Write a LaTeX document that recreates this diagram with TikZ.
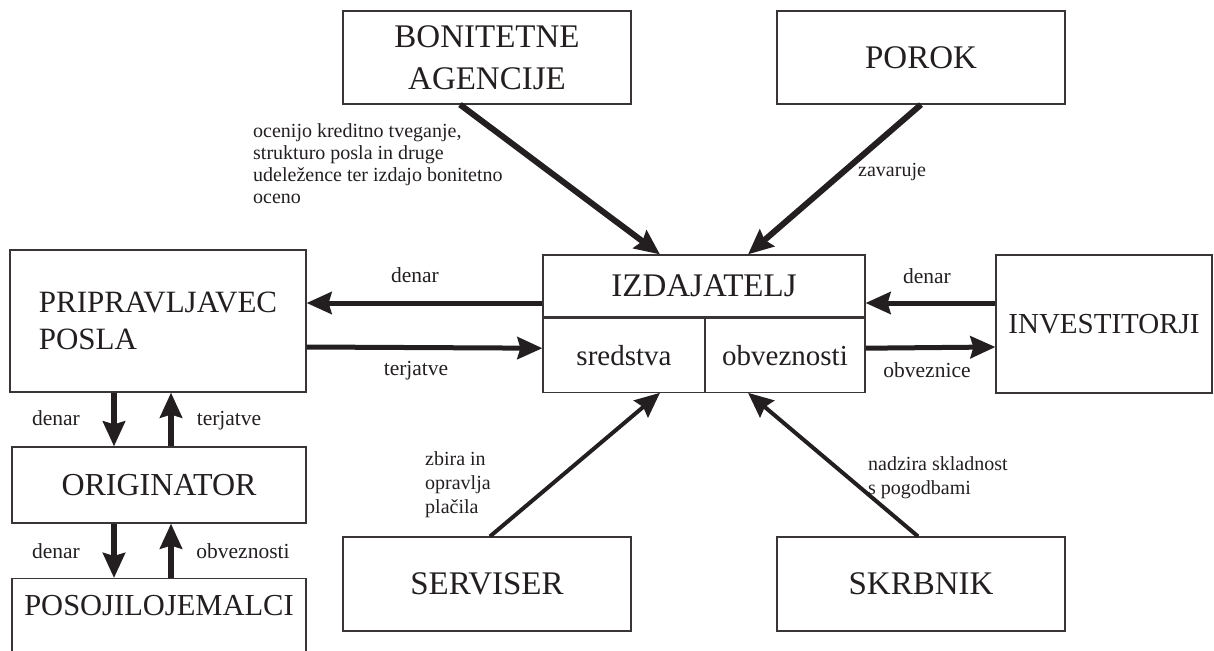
\documentclass[tikz,border=0pt]{standalone}
\usepackage{fontspec}
\setmainfont{Liberation Serif}
\usetikzlibrary{arrows.meta,positioning}
\definecolor{ink}{RGB}{35,31,32}
\tikzset{
  box/.style={draw=ink!90, line width=1.2pt, inner sep=0pt, text=ink,
    font=\fontsize{33}{42}\selectfont, align=center},
  lbl/.style={inner sep=0pt, text=ink, text height=15pt, text depth=4pt,
    font=\fontsize{21.5}{24}\selectfont},
  note/.style={inner sep=0pt, text=ink, align=left, font=\fontsize{20}{22}\selectfont},
  flow/.style={draw=ink, line width=5pt, -{Stealth[length=25pt,width=22pt,inset=3pt]}},
}
\begin{document}
\begin{tikzpicture}[x=1pt,y=-1pt]
    \useasboundingbox (0,0) rectangle (1214,650);
    \clip (0,0) rectangle (1214,650);
    %% Top boxes
    \node[box, minimum width=288pt, minimum height=93pt] (bon) at (487,57.5) {BONITETNE\\AGENCIJE};
    \node[box, minimum width=288pt, minimum height=93pt] (porok) at (921,57.5) {POROK};
    %% Issuer
    \node[box, minimum width=322pt, minimum height=62pt] (izd) at (704,286) {IZDAJATELJ};
    \node[box, minimum width=162pt, minimum height=74pt, anchor=north west,
      font=\fontsize{29}{34}\selectfont] (sred) at (izd.south west) {sredstva};
    \node[box, minimum width=160pt, minimum height=74pt, anchor=north east,
      font=\fontsize{29}{34}\selectfont] (obv) at (izd.south east) {obveznosti};
    \node[box, minimum width=216pt, minimum height=138pt,
      font=\fontsize{29}{34}\selectfont] (inv) at (1104,324) {INVESTITORJI};
    %% Left column
    \node[box, minimum width=296pt, minimum height=142pt, align=left,
      font=\fontsize{31}{37}\selectfont] (prip) at (158,321) {PRIPRAVLJAVEC\\POSLA};
    \node[box, minimum width=294pt, minimum height=76pt,
      font=\fontsize{32}{38}\selectfont] (orig) at (159,485) {ORIGINATOR};
    \node[box, minimum width=294pt, minimum height=120pt, anchor=north] (posoj) at (159,578) {};
    \node[text=ink, inner sep=0pt, font=\fontsize{30.5}{36}\selectfont] (posojt) at (159,606) {POSOJILOJEMALCI};
    %% Bottom boxes
    \node[box, minimum width=288pt, minimum height=94pt] (serv) at (487,584) {SERVISER};
    \node[box, minimum width=288pt, minimum height=94pt] (skrb) at (921,584) {SKRBNIK};

    %% Flows round the issuer
    \draw[flow] ([yshift=-17pt]izd.west) -- ([yshift=18pt]prip.east);
    \draw[flow] ([yshift=-26pt]prip.east) -- ([yshift=7pt]sred.west);
    \draw[flow] ([yshift=21pt]inv.west) -- ([yshift=-17pt]izd.east);
    \draw[flow] ([yshift=7pt]obv.east) -- ([yshift=-23pt]inv.west);
    \node[lbl] (den1) at (415,277) {denar};
    \node[lbl] (ter1) at (416,370) {terjatve};
    \node[lbl] (den2) at (927,278) {denar};
    \node[lbl] (obl) at (927,372) {obveznice};
    %% Left column flows
    \draw[flow, line width=6pt] ([xshift=-44pt]prip.south) -- ([xshift=-45pt]orig.north);
    \draw[flow, line width=6pt] ([xshift=12pt]orig.north) -- ([xshift=13pt]prip.south);
    \draw[flow, line width=6pt] ([xshift=-45pt]orig.south) -- ([xshift=-45pt]posoj.north);
    \draw[flow, line width=6pt] ([xshift=12pt]posoj.north) -- ([xshift=12pt]orig.south);
    \node[lbl] (den3) at (56,420) {denar};
    \node[lbl] (ter2) at (229,420) {terjatve};
    \node[lbl] (den4) at (56,553) {denar};
    \node[lbl] (obv2) at (243,553) {obveznosti};
    %% Diagonals
    \draw[flow, line width=6pt] ([xshift=-27pt]bon.south) -- ([xshift=-44pt]izd.north);
    \draw[flow, line width=6pt] (porok.south) -- ([xshift=44pt]izd.north);
    \draw[flow, line width=4pt] ([xshift=3pt]serv.north) -- ([xshift=36pt]sred.south);
    \draw[flow, line width=4pt] ([xshift=-3pt]skrb.north) -- ([xshift=-37pt]obv.south);
    \node[note, anchor=north west] (oce) at (253,123) {ocenijo kreditno tveganje,\\strukturo posla in druge\\udeležence ter izdajo bonitetno\\oceno};
    \node[note, anchor=west] (zav) at (858,172) {zavaruje};
    \node[note, anchor=north west, font=\fontsize{20}{24}\selectfont] (zbi) at (425,451) {zbira in\\opravlja\\plačila};
    \node[note, anchor=north west, font=\fontsize{20}{24}\selectfont] (nad) at (868,456) {nadzira skladnost\\s pogodbami};
\end{tikzpicture}
\end{document}
